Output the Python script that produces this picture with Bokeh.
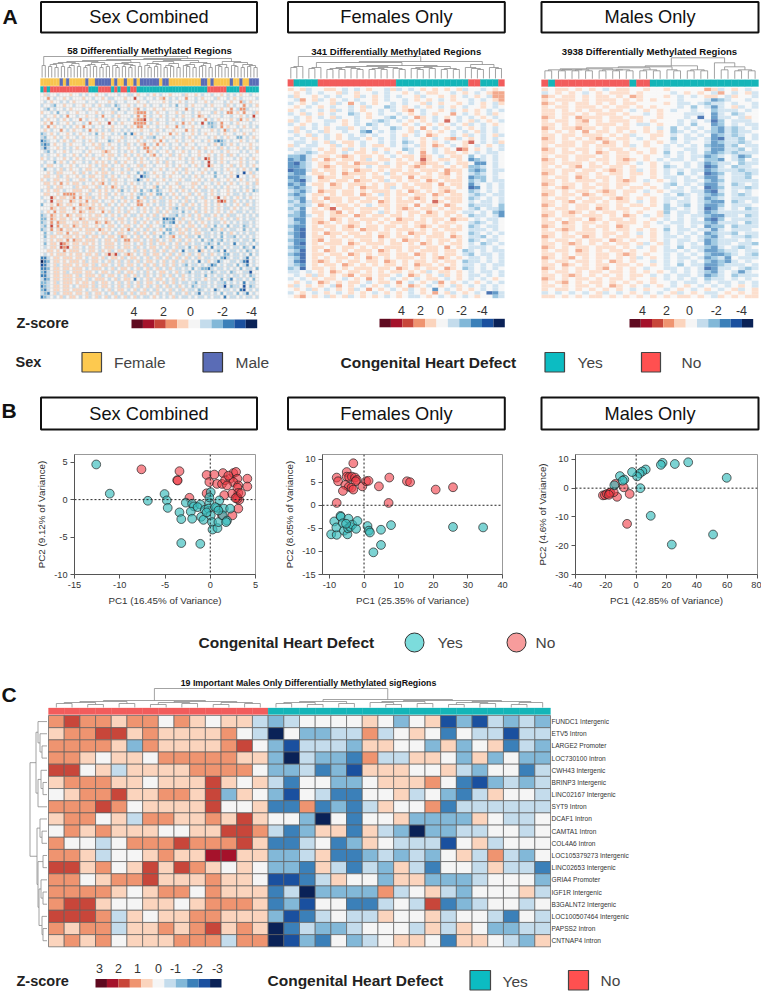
from bokeh.plotting import figure
from bokeh.layouts import column, row
from bokeh.models import Range1d, Span, FixedTicker
from bokeh.core.properties import value
from bokeh.embed import file_html
from bokeh.resources import INLINE

# ---------- data ----------
palette = {"k": "#5f0a20", "x": "#a5122b", "r": "#c8463a", "o": "#ef9470", "l": "#fbd4bd", ".": "#f5f5f5",
           "b": "#c4dcec", "m": "#82b8d8", "d": "#3b80b9", "e": "#1a509f", "f": "#0a2257"}
bar_levels = "kxrol.bmdef"
sex_colors = {"Y": "#f8c54e", "B": "#5a6cb6"}
chd_colors = {"T": "#14b5b8", "R": "#f25c5c"}

sex_strip = "YYYYYYBYBYYYYYBYYBBBBBYBYYBYYBYBBBBBBYBBYYYYYYYYYYBBYBYYYYYBYYBYYBBB"
sex_chd = "TRTRRRRRRRRRRRRTTTRRRRTRTRRTRRTTTTTTTTTTTTTTTTTTTTTTRRRRRRTTTTRRTTTT"
fem_chd = "RTTTTRRRRRRRRRRRRRTTTTTTTTTTTTRRTTTR"
male_chd = "RTRRRRRRRRRRRTRRTTTTTTTTTTTTTTTT"
c_chd = "RRRRRRRRRRRRRRTTTTTTTTTTTTTTTTTT"

sex_gaps = [12,21,11,13,10,14,11,15,10,12,14,11,16,10,12,13,11,15,10,13,11,17,12,10,14,11,13,10,12,15,11,18,12,10,14,
            11,13,16,10,12,11,14,10,17,12,11,13,10,15,11,12,14,10,19,12,11,13,10,16,12,11,15,10,13,11,12,10]
fem_gaps = [11,12,22,10,11,16,9,10,9,11,10,9,12,9,10,9,11,10,9,13,10,9,11,10,12,9,10,9,17,11,10,9,14,11,10]
male_gaps = [8,9,8,9,8,9,8,10,8,9,8,9,8,11,8,9,8,12,9,8,13,8,9,8,21,16,9,12,8,9,8]
c_gaps = [4,5,3,6,4,7,3,5,4,6,3,5,4,19,4,5,3,6,4,8,5,3,6,4,7,3,5,4,6,3,5]
c_row_gaps = [9,7,5,11,6,4,9,17,7,5,10,4,9,6,4,8,5,4]

sex_rows = [
 ".lb..b...l..b.b..l..b...b..bb.l..b.l.b..l...bl..l.b..b..l.b.b.l..b..",
 "..o.b..l.b...l..b..l.bb...l..r..b..b.lo.b.b..o..b.l...bl..b.l.b....b",
 ".b.l..b.b.l...b..b...l.b..b...l..b....l.b..l.b..b..l.b...b.l..ob.l..",
 "b..bm..l..b..l..b.l.bb.mb..l.b..l.b..b..b.m..b.l...b.l...bl.b..o.b.l",
 ".bm.b..b.l...b.l..b...b.m..b.lo.b..l..l...b..o.b..b...b.l..o.boob...",
 "l..b.m..b..l..b..l.b..lb..b..looo.b.l..b..l.b..b.l...bl.b.oo.l.o..bl",
 ".b..l.b.o..b..l..b.o..b.l...b.o.o.b..l.b..b.l..b.ol.b...b..b..l.b.r.",
 "b.l..b.l.b..o.b..l..b.l.b..b.loor.l.b..b.l..b..l...o.b.l...l.bo.l.b.",
 ".l.o.b..l.b..b.o..l..r.b.l...oooo.b.l..b..b.o.l.b.r.mmb.o..b.l...b..",
 "b.o.l..b.b.l.o..b..b..l...b.l.oo.l..b..l..o.b..l..b.bmb.o.l..b.l.b.b",
 ".l.b..o.b.l..b.o.l.b.bl..b.b...l..b.l.b..l...o.l.b...l.b.ob.l.b...l.",
 "mb.l.b..l.b.l..b.m.l..b.b.m.dl.b..l.b...o.l.b..l.b.l...b.l..b..l.b..",
 "bm..l.b.l..b.l...b.l.b...lb..b.l.bbm..l..b..b.l.b...b.l.b.l..mm.b.l.",
 "dmb..b.l.bl..b.l.b...mb.l.b...l.b..l.o.b..l.b..l..b.l.mdmb.b..l.b..b",
 "mdm.l..b.l...b..l.lb.l..b.bl.b.lo.b.o.l.b..b.l..b...b.l.mb.l.b...l..",
 "bdb..l.b.b.l..b..llb..l.b..l..b.oo.l.b..b.l.b..l.b.l...bl.b..l.b.l.b",
 ".bm.b..l.b...b.l...lol..b.b.l.b..ol.b..l.b..l.b..l.b.l..b.l...b.b..l",
 "b.b..l.b..l.b.l.b..l.ll.b.l.b.l.b.lo.b..lb.l..b..l..l.b.l.bl.b...b..",
 "l.b.b..l.b.l.b..l.b..l.b...l.b.l.b..l..b...l.b.l.b.ro.b.l...b.l.b.l.",
 ".b..m.l.b.l..b.b.l.l.b.lb.l..b.l..b.l.bl.b...b.l..b.r.b.l.b...l.b..b",
 "b.ll..b..l.b...l.b.ll.b..l.b..lbl..b...l.b.l..b.l.b.rl..b..lb.l.b.l.",
 ".m..b.lb.l..b.ll..bl.bl..b.lb..l..b..l.b..l.bl...b.l.b..b.l..b.l.b.m",
 "..l.bll...l.bl.b.l.ll.b..l.b..m.mb.l..b..l.b.l.b..l.b.m.b..l.b.e.lb.",
 ".ll..lb.l..l.b.ll..lb.l.b..l.b.emb..l.b.l...b.b.l.b...m..b.l.e..b.l.",
 "l.b.ll..lb..ll.b.l.l.bll..b..bdb.l.b..l.b..l.bb..l.b.l.b..l.b.l.b..l",
 ".ll.l.o.l.ll.b..l.lo.b.l..b.l.b.b.b.l..b..lb...ll.b..b.l.b.l.b..l.bl",
 "..lb.ll...bl.ll..lb.l.ol.b.b.l..b..lm.b.l..lb..l.b.l..b.b.l...b.b.b.",
 "b.l.ll.b..lll..lb.l.l.b.lm.b.l.m.bm.mb..l.b.l.b.l.bb.l.b..l.b.b.l.mb",
 ".ll..l.oooo.l.lb..l.lb.l.b..l.bmb.l.mm.b.l.b..lb.l.b.l.b..l.bb.b.b..",
 "b..rl.ll.lo.o.llb.l.l.b..lb.l.m.lb.b.lb.b.l.bl..b.lb..lr.l.b.l.b.l..",
 ".b.r.ll..ol.l.o.ll.b..l.b.l.b.ol.b.l.bb.l..b.lb.b..l.b.oro.bl.b.b.b.",
 "m..l.ol.ll..oll.l.l.bl.b.l.b..oo.l.b.bb.l.b.lb.l.b.l.b.l.b.b.l.bl.b.",
 "...ol.ll..o.l.lol.ll..b.l.b.l.b.l.b.l.b.lbm.b.lb.b.l.b.l.bb.l.b..bb.",
 "b.l.o.ll..l.ol.ll..o.lb.l.bl..b.l.b.lb.l.bb.m.b.lb.l.b.l.b.l.bb.b.b.",
 "mb.ol.l.ol.ll..l.ll.b.l.b.l.bb.l.b.lb.l.bbm.b.lb.l.bb.l.b.lbb..b.b.b",
 "mm.ol.ll.l..ol.lll..l.b.ll.b.l.b.l.bb.ddmd.bl..b.lb.l.b.l.b.bl.b.bb.",
 "mb.o.oll..ll.ll..ol.ol.b.l.b.lb.l.b.l.mbmd.l.bl.b.l.b.bb.l.b.b.bb.b.",
 "bm.r.o.ll.ol.ll..l.b.ll.b.ll.b.l.bl..bm.b.l.b.ll.b.lb.m.b.m.bb.mb.b.",
 "mb.o.lo.ll..l.lll.ol.l.b.l.ob.l.bl.b.l.mm.bl.lb.l.bb.mb.lb.bb..m.b.b",
 ".m.b.ll.o.ll..ll.b.ll.b.ll.b.lb.l.bl..m.mb.ll.b.ll.bb.b.m.bl.b.b.bb.",
 ".m.ll..lll.l.lb.ll.b.ll.bol.b.lb.l.b.mb.lo.b.lbb.m.bb.b.m.bbm.b.b.b.",
 ".b.l.ll.o.oll.lll.b.ll.lb.oo.ll.b.lbl.b.lb.lb.l.b.m.bm.bm.b.bb.bb.m.",
 ".m.ll.rol.ll.ll.l.b.lll.b.ll.b.lb.lb.ll.b.lb.lb.bb.bmb.m.bb.d.bb.b.b",
 ".b.ll.ror.ll.b.ll.b.lll.b.ll.bl.b.ll.b.lb.lbb.m.lb.m.d.bb.b.bb.mb.d.",
 "..ll.l.o.lll.b.ll.bl.lb.ll.b.lb.lb.lb.lb.lb.d.bb.dl.b.bm.d.bb.b.mb.b",
 ".b.l.lll.l.ll.ll.lb.lrlrb.lol.b.lb.ll.b.lb.lb.lb.lb.bl.b.mm.bb.b.m.b",
 "ddb.ll.lll.ll.b.ll.lb.ll.lb.ll.b.lb.lb.lb.lb.lb.bl.bb.b.mdb.bb.bd.b.",
 "fdm.ll.l.lll.lb.ll.b.lb.lb.lb.lb.ll.b.lb.lb.lb.b.d.bl.bdb..bb.bde.b.",
 "edb.lb.lll.l.ll.lb.ll.b.lb.ll.b.lb.lb.lb.lb.bm.bb.b.bdm.b.bb.m.bd.b.",
 "ddm.ll.ll.lll.b.lll.b.lb.ll.b.lb.lb.lb.bl.bb.b.m.bmmdb.bb.b.b.m.bb.m",
 "mdb.ll.lb.lll.ll.b.ll.b.lb.ll.b.bl.b.ll.b.lb.bm.bb.b.mb.bb.mb..bbe..",
 "ddb.ll.lll.lb.lll.lb.ll.b.lb.lb.bl.b.lb.lb.bl.b.bb.m.b.bb.b.bb.b.mb.",
 "bdm.ll.lll.ll.lb.lll.b.lb.ll.d.b.lb.ll.b.lb.l.b.bb.l.bb.m.bd.bb.b.m.",
 "mmb.lb.lll.l.ll.lb.ll.b.lb.lb.lb.ll.b.lb.lb.bb.bm.bb.b.bbm.b.b.d.bb.",
 "dmb.ll.ll.b.lll.lb.ll.b.lb.lb.lb.lb.lb.lb.bl.b.mb.bb.b.bbe.mbb.e.mb.",
 "mdb.ll.ll.lll.b.ll.b.lb.ll.b.lb.lb.bl.b.lb.bl.bb.mb.b.db.bb.b.de.b.b",
 "bmd.lb.lll.ll.lb.ll.b.lb.lb.lb.ll.b.lb.bl.bb.lb.bd.bb.b.m.bb.m.bd.b.",
 "dmb.b.lb.ll.b.lb.lb.lb.lb.lb.lb.bb.l.b.b.lb.bb.b.bb.b.bb.d.bb.b.bb.b",
]

fem_rows = [
 "l.lb..ll.b.b.l..blb.b.l.l.l.lb..b.l.",
 ".l.b.b..lb.l..b.b..l.b.ll..b.l.b.loo",
 "bl..l.b.b..lb.l.b.b..lb..l.l.b.l.boo",
 ".bo.lb.l.b.b..l.b..b.l.l.b.l..b.b.lo",
 "b.l.b..lb.o.b.l..b.b..lb.l..l.b.l.bl",
 ".l.b.l.b..b.lb..mb.l.b.l.b.l.b..l.b.",
 "l.b..b.lb.b.l..b.b.lo.b..l.b.l.l.b.b",
 "b.lb.l.b..mb.l.b..b.l.b.l..o.b.l.bl.",
 ".b.l.b.lb..b.l..bm.b.ol.b.l.b.b.l.b.",
 "lb.l..bb.l.b..bmb.b.l.l.b.r.b.lb.l.b",
 "b.l.b.b..l.b.mb.b..l.b.l.l.b.lb.b.l.",
 ".lb.b.l.bbl.b.b..mb.l.o.b.l.b.l.b.b.",
 "bl.b.bl..b..md.b.b..lb.l.l.b.b.lb.b.",
 ".b.lb.b.l.b.b.b..b.l.b.ol..b.lb.b.lb",
 "b.b.l.b.l.bb.l.b.b.b..l.b.lob.l.b.b.",
 ".bb.b.lb.ll.b..b.b.mb.l.l.b..lr.b.bl",
 "lb.bb..lb.l.b.ll.b.b.bl.ol.b.l.b.l.b",
 "b.bb.l.l.lb.l.b.l..mb.l.b.l.ro.l.b.b",
 ".bbmb.ll.b.ll.l.b.l.b.o.b.ll.l.b.bb.",
 "mmdb.ll.lol.ll.l.b.ll.ol.b.ll.m.b.b.",
 "dmdbl.ol.ll.lb.ll.l.l.rl.ll.l.dmb.b.",
 "demb.ll.ll.olll.b.ll.loll.b.ll.dd.b.",
 "ddmb.lol.lll.b.ll.l.lol.ll.l.lmmb.b.",
 "eddbl.ll.l.oll.l.ll.l.lll.oll.mdm.bb",
 "mdd.ll.l.olll.l.bl.lll.l.lo.l.bmb.b.",
 "ddmb.oll.ll.l.ll.ll.o.ll.ll.l.dmm.b.",
 "mdeb.ll.ll.oll.lb.l.ll.ol.lll.mbm.bb",
 "dmd.ll.ol.lll.l.ll.l.lll.o.ll.db.b.b",
 "mdmb.l.ll.l.oll.lb.ll.ll.ll.l.ed.b.b",
 "bmdb.oll.ll.l.lll.l.ol.l.lol..mb.b.b",
 "mdm.ll.l.ll.ol.bl.ll.ll.ol.ll.bmb.bb",
 "bmd.l.oll.ll.ll.l.l.lol.l.lll.mb.b.b",
 "mbdbll.ll.l.ll.ol.lll.l.rl.ll.b.bb.b",
 "bmmb.ol.ll.l.b.ll.ll.o.ll.ol..mbbb.m",
 "mbd.l.lr.ll.lll.l.lol.ll.l.ll.bm.bbm",
 "bmd.ll.lo.l.ll.bl.l.ll.ol.ll.bb.b.md",
 "mmdb.l.lll.ol.ll.ll.l.lll.l.l.mbb.bd",
 "bdd.ll.ol.l.lll.l.oll.l.ll.oll.b.bb.",
 "bmd.lol.l.ll.l.l.lll.ll.l.ll..bmb.b.",
 "mdd.l.ll.lol.ll.ll.l.lol.ll.l.mb.bb.",
 "bde.ll.l.ll.oll.l.lll.l.l.lll.bbb.b.",
 "mde.l.oll.ll.l.ll.l.oll.ll.l..mb.b.b",
 "bde.ll.l.l.lll.ol.ll.l.lll.ol.bbm.b.",
 "mdd.lo.ll.l.ll.l.l.oll.l.ll.l.mb.bb.",
 "bde.l.lll.ol.lll.ll.l.ol.l.ll.b.mb.b",
 "mdd.ll.l.ll.l.l.lll.ll.ll.o.l.bbb.b.",
 "bme.l.ol.l.lll.ol.l.l.lll.ll.mb.b.bb",
 "mde.ll.ll.ol.l.ll.ll.ol.l.ll.bm.bb.b",
 "bme.l.l.ll.l.ol.l.lll.l.lol.l.bb.b.b",
 "bde.lol.l.ll.ll.ol.l.ll.l.ll.mbb.b.b",
 "bmd.l.ll.ol.l.l.ll.l.oll.l.l.bb.b.bb",
 "mbe.ll.l.l.lll.ll.ol.l.ll.ol.mb.b.b.",
 "bb.b.l.ol.ll.l.l.ll.l.lb.ll.l.b.bb.b",
 ".b.lbl.l.lo.ll.ll.b.ol.l.bl.l.bb.b.b",
 "b.b.l.ll.b.l.o.l.b.l.b.ll.b.l.b.b.l.",
 ".l.b.ol.l.ll.b.ll.o.b.l.bo.l.b.l.b.b",
 "lb.l.l.bo.l.b.l.b.l.ol.b.l.bl.b.b.b.",
 ".l.bl.b.l.lb.o.l.b.lb.l.d.b.l.l.b.b.",
 "b.l.b.l.b.l.l.b.l.l.b.l.o.lb.l.b.edb",
 ".lo.l.bl.lb.l.l.b.l.bb.l.b.l.b.l..mb",
]

male_rows = [
 "l.ll.l.l.b.ll..l..l.....olb.l.b.",
 "b.l.l.b.l.lll.l....b.l.l.bo.b.lb",
 "ol.ll.l.ll.l.ol...l.b.b.ll.bl..b",
 "l.lll.l.lll.l.l.l...b...bdmb..b.",
 "ol.l.ll.l.l.ll....l.bb.bmbb.b..b",
 "l.ll.lll.l.ll.l.l...b.m.bdb.lb.b",
 "ll.l.l.ll.ll.b.l.l.b..b..mbbb.b.",
 "ll.ll.l.lll.l..b.l...bbb.db.mb..",
 "ol.l.olll.ll.ll..l...b.e.dbb.bl.",
 "l.ll.lo.l.lll.l.l...b.b.bem.bbb.",
 "ll.l.ll.lll.l.bb.l..b.m..dm.b.bb",
 "ol.lloll.l.ll..l.b.m.b.b.mdbmb.b",
 "l.l.l.o.ll.l.l.l.l.mb.b.bmdbmbb.",
 "ll.ll.lll.l.lb..ll.b.b.b.dmbmb.b",
 "ol.l.l.lol.ll.b.l..m.bb.bdebbm.b",
 "ll.ll.ll.ol.l..l.l.b.b..bdmbbmb.",
 "l.lll.l.lll.lb.l..b.b.b.mddbm.bb",
 "ol.l.ll.l.ll.l..l.b..bb.bddbbm.b",
 "ll.ll.l.ol.ll.l.l.m.b.b.mdmbmbbb",
 "l.ll.lll.l.ll..l..b.b.bbdmb.bdm.",
 "ol.l.ll.ll.lol.l.b.bb.b.mmd.bm.b",
 "ll.lll.l.l.ll.b.l.b..b.bdmbb.mbb",
 "l.l.lo.ll.ll.l..l.mb.b.bedb.mbb.",
 "ll.ll.ll.lol.lb.l.b.b.bbdmbbbmbb",
 "ol.l.ll.l.ll.ll.l.b.m.b.edm.bbmb",
 "l.ll.ol.ll.l.l..l.bb.b.bddb.bbm.",
 "ll.l.lll.l.lol.b.l.b.bb.mdm.bbbb",
 "ol.ll.l.ll.ll..l..bm.b.bddb.mb.b",
 "l.lol.ll.l.l.ll.l.b.b.b.edm.bbmb",
 "ll.l.ll.lol.ll.b.l.bb.bbdeb.b.b.",
 "ol.ll.ol.ll.l..l..b.mb.bmdm.bmb.",
 "l.ll.l.ll.lol.l.l.bb.b.bdmb.bbbb",
 "ll.lo.ll.l.ll.b.l.b.bb.bmdd.mb.b",
 "ol.l.ll.ll.l.ll.l.m.bm.bddm.bbb.",
 "l.ll.ll.ol.ll..l..mb.b.bedb.b.mb",
 "ll.lol.l.ll.l.l..lm.bb.bdmbbbbbb",
 "ol.ll.lll.l.ol.b.lb.b.bbmddbb.mb",
 "l.l.ll.ol.ll.l..l.b.b.b.dem.bbbb",
 "ll.ol.ll.l.lll.l.b.bb.bbmdbbb.mb",
 "ol.ll.l.ll.ol..l..b.b.b.dmm.mbbb",
 "l.lol.ll.l.ll.l.l.m.bb.bbdb.bbb.",
 "ll.l.lll.ll.l.b.l.b.b.b.dmbbm.bb",
 "ol.ll.ol.l.ll.l.l.bb.b.bmdb.bbmb",
 "l.ll.l.ll.ol.l..l.b.bb.bdmbbb.b.",
 "ll.lol.l.l.ll.lb.lb.b.b.dmbb.bbm",
 "ol.l.ll.lll.l.b.l.b.m.bbmdb.bmb.",
 "l.ll.ol.l.ll.l..l.bb.b.bddmbb.bb",
 "ll.l.ll.ll.lol.l..b.b.b.mddmb.bm",
 "ol.lo.l.ll.l.lb.l.b.bb.bdmbd.bbb",
 "l.ll.ll.l.ol.l..b.b.b.b.mdmdb.b.",
 "ll.ol.l.ll.ll.l.l.b.m.bbddmbbb.b",
 "ol.l.ll.lo.l.l.b..bb.b.bedbb.bmb",
 "l.ll.l.ll.ll.l.l.l.b.b.bmdb.bdb.",
 "ll.lol.l.l.l.ll.b.b.bb.bdmb.mbbb",
 "ol.l.ll.l.ll.l..l.b.b.b.mbb.b.b.",
 "l.lo.l.ll.l.l.l.l..b.bb.b.bb.b.b",
 "ll.l.ll.l.ol.l.b.l.b.l.b.b.b.l.b",
 "l.ll.l.l.l.l.b.l..b.l.b.l.b.lb.l",
 "b.b.b.b.lb.b.l.b.b.lb.l.bb.l.l.l",
 "ll.l.l.ll.l.l.l.l.l.ll.l.bl.l.ll",
]

c_rows = [
 "orooloo.ol.llb mb ....l.m.lemebmbm",
 "loorrlollllo.b f. mmbbob.l.d.bbebb",
 "oooolmollllor. me bbbmll..mlm.ldbm",
 "ool.ll.oooooll mf bmmdobbll.mlm.mm",
 "rr.lblllloooo. mm bdmelll..lbm..db",
 "loooll.lllrl.l bd ..mm.lllo.dembmb",
 ".loorlloolrml. me .bdd..lb.mdbl..b",
 "oooro.llllr..l dd odmdbl..odbbbbbb",
 "loo.lboollolrl .. mf.d..lmmmml.bb.",
 ".ololll..llrro bd mlldlbmfmmbb..b.",
 "o..b.ooorooorl dd b.dml.bbbe.lb...",
 "oolb..lollxxll mm blddmbmbm.lbobm.",
 "rrlo.lrlrol.l. mm dlbdbmlbd..blbbd",
 "oo.loorllloll. ee dbl..mllmmmb...m",
 "oooo l.loo.olll db fmmmmob.lbm...lb",
 "orrl..ll.loool dm e..ddb.brdmb..b.",
 "rrrobl.lloolll me db.bbl..lb..bd.b",
 "oloobllolorlol fd bmmb...blbl.mmbb",
 "lolo.llloooboo fe md.mb.ll.dll.bml",
]
c_labels = ["FUNDC1 Intergenic", "ETV5 Intron", "LARGE2 Promoter", "LOC730100 Intron", "CWH43 Intergenic",
            "BRINP3 Intergenic", "LINC02167 Intergenic", "SYT9 Intron", "DCAF1 Intron", "CAMTA1 Intron",
            "COL4A6 Intron", "LOC105379273 Intergenic", "LINC02653 Intergenic", "GRIA4 Promoter", "IGF1R Intergenic",
            "B3GALNT2 Intergenic", "LOC100507464 Intergenic", "PAPSS2 Intron", "CNTNAP4 Intron"]

pca1_yes_x = [-12.6,-11.1,-6.9,-5.05,-4.8,-4.7,-3.4,-3.2,-3.2,-1.1,-2.7,-2,-1.8,-2.15,-2,-1.1,-1.4,-1,-0.75,-0.6,-0.1,0.05,-0.1,-0.2,0.05,0.2,0.25,0.8,0.9,0.75,1,1.5,1.4,1.85,1.75,2.2,0.55,0.9,-0.4]
pca1_yes_y = [4.7,0.8,-0.15,0.75,-0.1,-1.1,-1.7,-2.6,-5.8,-5.9,-0.4,-0.55,-0.9,-1.6,-2.55,-0.65,-1,-2.3,-2.7,-1.35,-0.35,1,0.3,-1.2,-2.1,-3,-4,-3.8,-3,-1.1,-0.1,-1.2,-2.1,-2.8,-3,-1.2,-1,-1.45,-1.7]
pca1_no_x = [-7.6,-3.4,-3.65,-3.6,-2.3,-0.4,0.45,-0.1,0.75,1.4,1.3,1.65,2.2,2.55,2.85,3,2.55,3.1,3,1.85,4.1,4.1,3.1,2.4,1.55,2.95,3.2,3,2.8,3.1,2.45,-0.4,1.3,2,3.4]
pca1_no_y = [4.05,3.8,2.6,2.55,0.25,3.3,3.35,2.35,2.1,3.55,2.1,2.6,2.8,3.55,3.7,2.8,2.35,1.9,1.6,1.9,2.8,1.75,0.9,0.8,0.6,0.35,-0.05,0.1,0.2,-1.2,-2.1,0.85,-2.1,3.2,0.85]
pca2_yes_x = [-9.5,-7.9,-8.6,-8,-6.8,-6.7,-6.1,-5.8,-4.8,-4.5,-4.6,-4,-3.4,-2.3,-1.9,1,1.4,1.7,4.9,7.8,4.9,2.7,25.7,34.4,-5.2]
pca2_yes_y = [-6.3,-6.4,-3.5,-4.8,-2.3,-2.5,-3.9,-5.5,-6.3,-2.9,-5,-4.7,-4.2,-5.1,-3.4,-4.5,-5.5,-5.9,-5.3,-4.3,-8.6,-10.2,-4.7,-4.8,-4]
pca2_no_x = [-3.1,-5,-7.9,-7.5,-5,-4.3,-3.5,-2.6,-2.1,-2.4,-5.4,-4.4,-3.6,-3.1,-6.1,-0.5,0.6,1.3,4.3,7.3,12.4,13.3,20.7,25.7,7.1,-7.9]
pca2_no_y = [9.1,7.2,6,5.2,6.2,6.1,6.2,6,5.5,5.2,4.4,4,3.8,3.4,3.1,4.1,5.2,5.3,4.1,6,5.2,5,3.4,3.9,0.5,0.5]
pca3_yes_x = [59.7,34.3,25.5,17.4,16.3,6.3,4.1,2.3,0.6,-2.7,-10.7,-7.8,-8.9,-14.4,2.8,9.6,23.5,50.7]
pca3_yes_y = [3.6,9,8.4,8.8,8.1,6.5,5.8,5.1,4.1,5.6,4.2,3,2.6,1,0,-9.6,-19.6,-16.1]
pca3_no_x = [-6,-4.3,-12.6,-8.2,-13.7,-21.9,-20.6,-19.3,-17.5,-17,-14.8,-18]
pca3_no_y = [-12.4,-2,-3,0.3,1.5,-2.5,-2.4,-2,-1.7,-1.5,-1.4,-2.3]

# ---------- helpers ----------
FONT = "Liberation Sans"
W = 761

def canvas(h, y0, y1):
    p = figure(width=W, height=h, x_range=Range1d(0, W), y_range=Range1d(y1, y0), x_axis_type=None, y_axis_type=None,
               toolbar_location=None, output_backend="svg", min_border=0, outline_line_color=None,
               background_fill_color="white", border_fill_color="white")
    p.grid.visible = False
    return p

def txt(p, x, y, s, size, bold=False, align="left", color="#222222"):
    p.text(x=[x], y=[y], text=[s], text_font=value(FONT), text_font_size=value(f"{size}px"),
           text_font_style="bold" if bold else "normal", text_align=align, text_baseline="middle", text_color=color)

def box(p, x0, x1, y0, y1, fill=None, lw=2.0, lc="#111111"):
    p.quad(left=[x0], right=[x1], top=[y0], bottom=[y1], fill_color=fill, fill_alpha=1 if fill else 0, line_color=lc, line_width=lw)

def cells(p, rows, xname, yname, line=None, lw=0.3, alpha=1.0):
    rows = [r.replace(" ", "") for r in rows]
    xs, ys, cs = [], [], []
    for j, r in enumerate(rows):
        for i, ch in enumerate(r):
            xs.append(i + .5); ys.append(j + .5); cs.append(palette[ch])
    p.rect(x=xs, y=ys, width=1, height=1, fill_color=cs, fill_alpha=alpha, line_color=line if line else None, line_width=lw,
           x_range_name=xname, y_range_name=yname)

def add_cols(p, name, left, cw):
    p.extra_x_ranges[name] = Range1d(-left / cw, (W - left) / cw)

def add_rows(p, name, top, rh):
    p.extra_y_ranges[name] = Range1d((p.y_range.start - top) / rh, (p.y_range.end - top) / rh)

def strip(p, codes, colors, y0, y1, xname, line=None):
    xs = [i + .5 for i in range(len(codes))]
    cs = [colors[c] for c in codes]
    p.rect(x=xs, y=[(y0 + y1) / 2] * len(codes), width=1, height=y1 - y0, fill_color=cs,
           line_color=line if line else cs, line_width=0.3, x_range_name=xname)

def tree(gaps):
    segs_pos, segs_h = [], []
    def rec(l, r):
        if l == r:
            return l + .5, 0
        part = gaps[l:r]
        k = l + part.index(max(part))
        xa, ha = rec(l, k)
        xb, hb = rec(k + 1, r)
        h = gaps[k]
        segs_pos.append([xa, xa, xb, xb]); segs_h.append([ha, h, h, hb])
        return (xa + xb) / 2, h
    rec(0, len(gaps))
    return segs_pos, segs_h

def dendro_top(p, gaps, base, xname, scale=1.0, color="#8c8c8c"):
    pos, hs = tree(gaps)
    p.multi_line(xs=pos, ys=[[base - v * scale for v in h] for h in hs], line_color=color, line_width=0.8, x_range_name=xname)

def zbar(p, x0, x1, y0, y1, labels, lab_x, lab_y, size=12.5):
    cw = (x1 - x0) / len(bar_levels)
    p.quad(left=[x0 + i * cw for i in range(len(bar_levels))], right=[x0 + (i + 1) * cw for i in range(len(bar_levels))],
           top=[y0] * len(bar_levels), bottom=[y1] * len(bar_levels), fill_color=[palette[c] for c in bar_levels],
           line_color=None)
    for s, x in zip(labels, lab_x):
        txt(p, x, lab_y, s, size, align="center", color="#333333")

# ---------- top canvas: panel A + B headings ----------
a = canvas(445, 0, 445)
txt(a, 2, 16, "A", 21, bold=True, color="#111111")
txt(a, 1, 410, "B", 21, bold=True, color="#111111")
heads = [("Sex Combined", 40.5, 256.5), ("Females Only", 287.5, 504.3), ("Males Only", 541, 758)]
for name, x0, x1 in heads:
    box(a, x0, x1, 1.5, 32)
    txt(a, (x0 + x1) / 2, 16.5, name, 18.2, align="center", color="#111111")
    box(a, x0, x1, 397, 429)
    txt(a, (x0 + x1) / 2, 413, name, 18.2, align="center", color="#111111")

panels = [("s", sex_rows, 40, 3.21, 92.7, 205.6 / 58, "#dddddd", 0.5, 1.0),
          ("f", fem_rows, 287.3, 216.7 / 36, 87.3, 210.4 / 60, None, 0.3, 0.8),
          ("m", male_rows, 541, 217.0 / 32, 87.3, 210.4 / 60, None, 0.3, 0.75)]
for nm, rows_, left, cw, top, rh, line, lw, alpha in panels:
    add_cols(a, nm + "x", left, cw)
    add_rows(a, nm + "y", top, rh)
    cells(a, rows_, nm + "x", nm + "y", line=line, lw=lw, alpha=alpha)

strip(a, sex_strip, sex_colors, 78, 85.2, "sx")
strip(a, sex_chd, chd_colors, 86, 91.8, "sx")
strip(a, fem_chd, chd_colors, 79, 85.8, "fx")
strip(a, male_chd, chd_colors, 79.3, 86, "mx")
dendro_top(a, sex_gaps, 77, "sx")
dendro_top(a, fem_gaps, 78, "fx")
dendro_top(a, male_gaps, 78.3, "mx")
txt(a, 149, 50, "58 Differentially Methylated Regions", 9.6, bold=True, align="center", color="#111111")
txt(a, 395.7, 50.8, "341 Differentially Methylated Regions", 9.6, bold=True, align="center", color="#111111")
txt(a, 649, 51, "3938 Differentially Methylated Regions", 9.6, bold=True, align="center", color="#111111")

txt(a, 16, 322.7, "Z-score", 14.5, bold=True)
z_a = ["4", "2", "0", "-2", "-4"]
zbar(a, 131, 256.7, 319, 327.7, z_a, [133.5, 163, 190, 222, 251], 311)
zbar(a, 379, 504.3, 318.3, 326.8, z_a, [401, 420, 440, 461, 481.7], 310)
zbar(a, 629, 752.7, 318.5, 327, z_a, [642, 666, 689, 715.7, 741], 310)

txt(a, 15, 361.7, "Sex", 14.5, bold=True)
box(a, 81.5, 101, 352, 371.5, fill="#fdc94f", lw=1.2, lc="#444444")
txt(a, 113.5, 361.7, "Female", 15.5, color="#444444")
box(a, 202.5, 222, 352, 371.5, fill=sex_colors["B"], lw=1.2, lc="#333333")
txt(a, 235, 361.7, "Male", 15.5, color="#444444")
txt(a, 340, 361.7, "Congenital Heart Defect", 15.5, bold=True)
box(a, 544.5, 564, 352, 371.5, fill="#0cbcc2", lw=1.2, lc="#444444")
txt(a, 577, 361.7, "Yes", 15.5, color="#444444")
box(a, 641, 660, 352, 371.5, fill="#ff5050", lw=1.2, lc="#444444")
txt(a, 681, 361.7, "No", 15.5, color="#444444")

# ---------- PCA scatter figures ----------
def pca(width, left, right, xr, yr, xt, yt, xl, yl, yes, no):
    p = figure(width=width, height=170, x_range=Range1d(*xr), y_range=Range1d(*yr), toolbar_location=None,
               output_backend="svg", min_border_left=left, min_border_right=right, min_border_top=9, min_border_bottom=41,
               outline_line_color="#999999", outline_line_width=1, background_fill_color="white", border_fill_color="white")
    p.grid.visible = False
    p.xaxis.ticker = FixedTicker(ticks=xt)
    p.yaxis.ticker = FixedTicker(ticks=yt)
    p.xaxis.major_label_overrides = {t: str(t) for t in xt}
    p.yaxis.major_label_overrides = {t: str(t) for t in yt}
    p.xaxis.axis_label = xl
    p.yaxis.axis_label = yl
    for ax in (p.xaxis[0], p.yaxis[0]):
        ax.axis_label_text_font = FONT
        ax.major_label_text_font = FONT
        ax.axis_label_text_font_style = "normal"
        ax.axis_label_text_font_size = "9.8px"
        ax.major_label_text_font_size = "9.2px"
        ax.axis_label_text_color = "#333333"
        ax.major_label_text_color = "#333333"
        ax.axis_line_color = "#555555"
        ax.major_tick_line_color = "#555555"
        ax.major_tick_out = 4
        ax.major_tick_in = 0
        ax.minor_tick_line_color = None
        ax.major_label_standoff = 3
        ax.axis_label_standoff = 4
    p.yaxis[0].major_label_orientation = "horizontal"
    for dim in ("width", "height"):
        p.add_layout(Span(location=0, dimension=dim, line_color="#222222", line_dash="2 2", line_width=1))
    p.scatter(no[0], no[1], size=8.8, fill_color="#f03a44", fill_alpha=0.6, line_color="#222222", line_width=0.7)
    p.scatter(yes[0], yes[1], size=8.8, fill_color="#35bcbc", fill_alpha=0.65, line_color="#222222", line_width=0.7)
    return p

p1 = pca(270, 74, 15, (-15, 5), (-10, 6.03), [-15, -10, -5, 0, 5], [-10, -5, 0, 5],
         "PC1 (16.45% of Variance)", "PC2 (9.12% of Variance)", (pca1_yes_x, pca1_yes_y), (pca1_no_x, pca1_no_y))
p2 = pca(245, 52, 13, (-12, 40), (-15, 11), [-10, 0, 10, 20, 30, 40], [-15, -10, -5, 0, 5, 10],
         "PC1 (25.35% of Variance)", "PC2 (8.05% of Variance)", (pca2_yes_x, pca2_yes_y), (pca2_no_x, pca2_no_y))
p3 = pca(246, 60, 4, (-40, 80), (-30, 11.7), [-40, -20, 0, 20, 40, 60, 80], [-30, -20, -10, 0, 10],
         "PC1 (42.85% of Variance)", "PC2 (4.6% of Variance)", (pca3_yes_x, pca3_yes_y), (pca3_no_x, pca3_no_y))

# ---------- bottom canvas: B legend + panel C ----------
c = canvas(376, 615, 991)
txt(c, 198, 642, "Congenital Heart Defect", 15.5, bold=True)
c.scatter([414], [642], size=19, fill_color="#7cdcdc", line_color="#333333", line_width=1)
txt(c, 437, 642, "Yes", 15.5, color="#444444")
c.scatter([516], [642], size=19, fill_color="#f79c9c", line_color="#333333", line_width=1)
txt(c, 535, 642, "No", 15.5, color="#444444")

txt(c, 1, 694, "C", 21, bold=True, color="#111111")
txt(c, 308, 682.7, "19 Important Males Only Differentially Methylated sigRegions", 8.8, bold=True, align="center", color="#111111")

add_cols(c, "cx", 48, 502.0 / 32)
add_rows(c, "cy", 715, 231.3 / 19)
cells(c, c_rows, "cx", "cy", line="#5e5e5e", lw=0.7)
strip(c, c_chd, chd_colors, 707.5, 714, "cx", line=None)
dendro_top(c, c_gaps, 707, "cx")
pos, hs = tree(c_row_gaps)
c.multi_line(xs=[[46.5 - v for v in h] for h in hs], ys=pos, line_color="#8c8c8c", line_width=0.8, y_range_name="cy")
c.text(x=[551] * 19, y=[j + .5 for j in range(19)], text=c_labels, text_font=value(FONT), text_font_size=value("6.6px"),
       text_baseline="middle", text_color="#333333", y_range_name="cy")

txt(c, 16, 980, "Z-score", 14.5, bold=True)
zbar(c, 95, 221, 978.5, 987, ["3", "2", "1", "0", "-1", "-2", "-3"], [99, 118, 137, 158, 175, 197, 217], 968)
txt(c, 267, 980, "Congenital Heart Defect", 15.5, bold=True)
box(c, 469.5, 490, 970, 989.5, fill="#0cbcc2", lw=1.2, lc="#444444")
txt(c, 502, 981, "Yes", 15.5, color="#444444")
box(c, 568, 588, 970, 989.5, fill="#ff5050", lw=1.2, lc="#444444")
txt(c, 600, 980, "No", 15.5, color="#444444")

page = column(a, row(p1, p2, p3), c, spacing=0)
open("out.html", "w").write(file_html(page, INLINE))
